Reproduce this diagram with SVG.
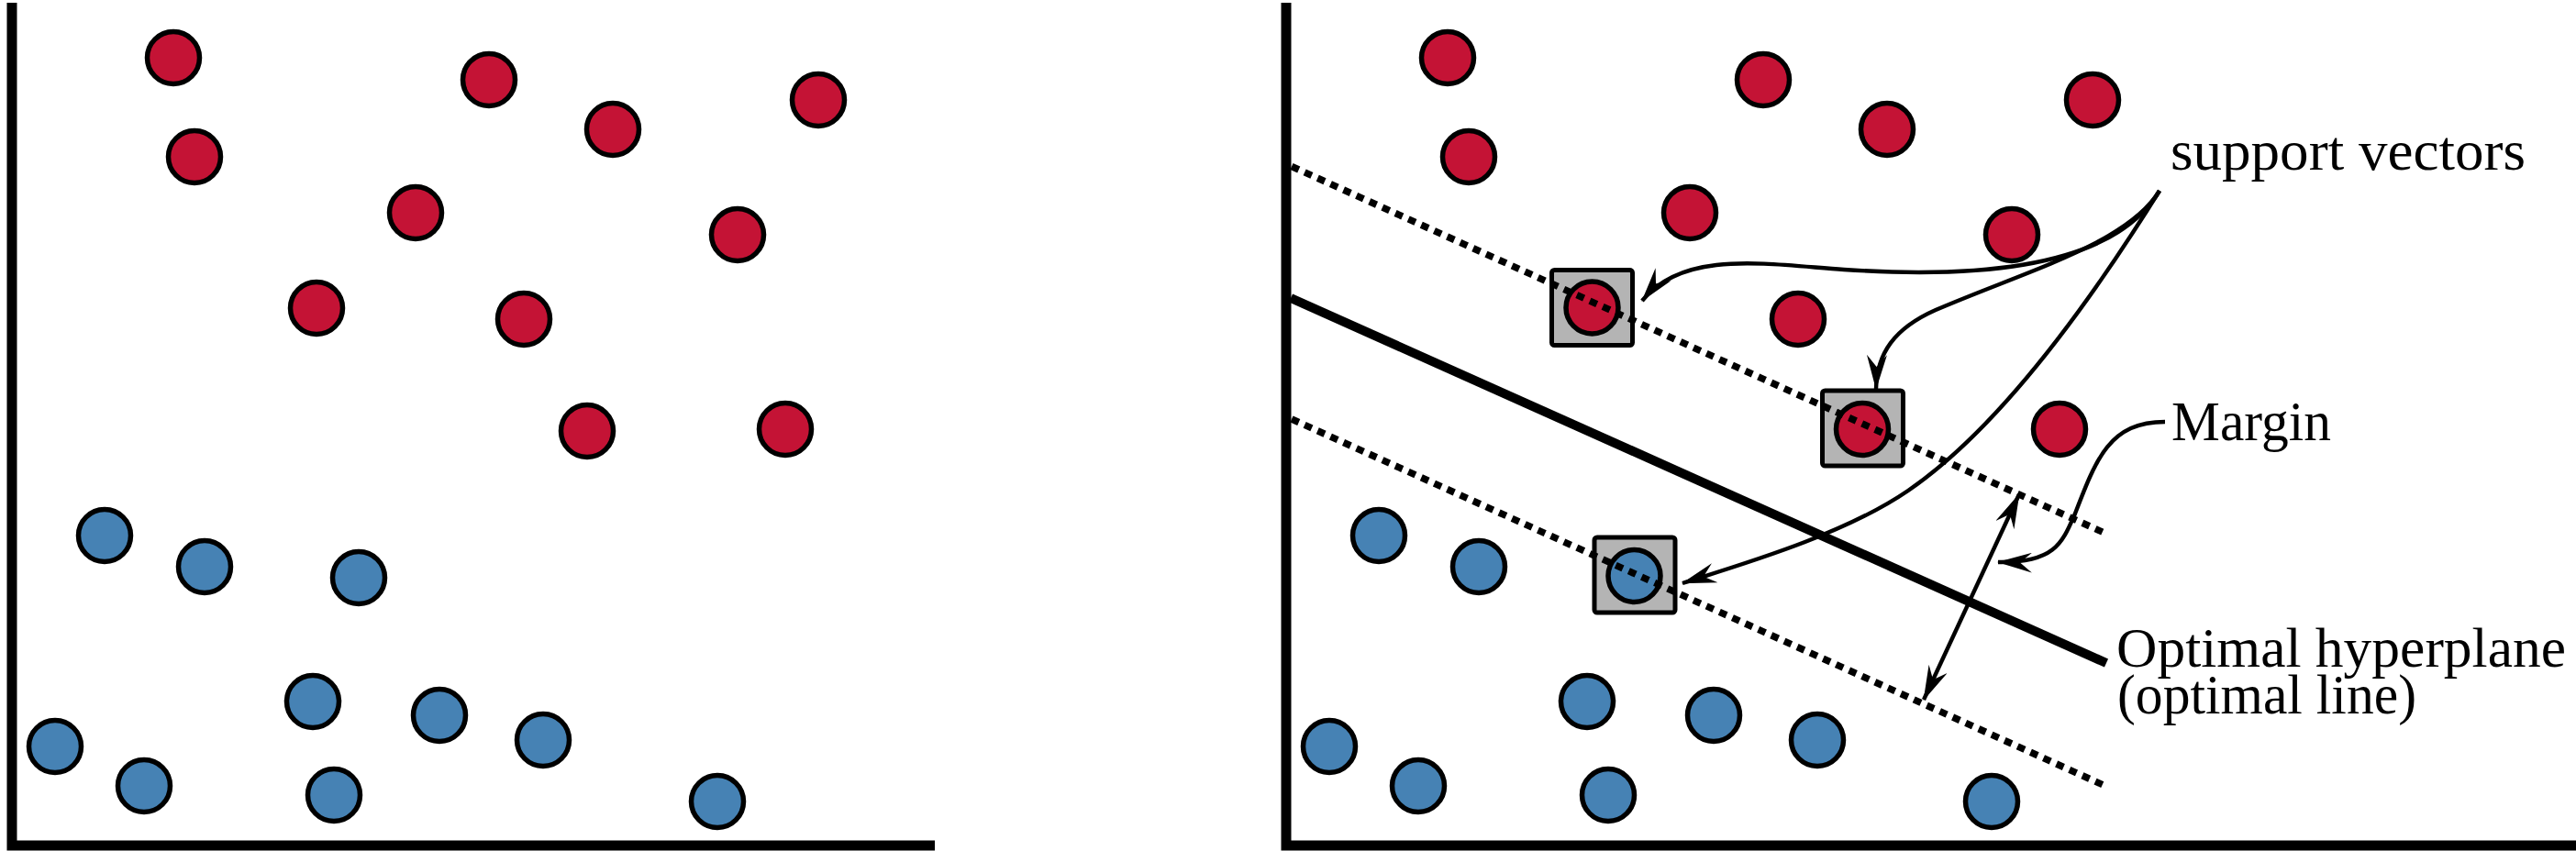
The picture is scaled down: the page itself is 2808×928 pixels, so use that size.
<svg xmlns="http://www.w3.org/2000/svg" width="2808" height="928" viewBox="0 0 2808 928">
<style>
.ax{fill:none;stroke:#000;stroke-width:11;stroke-linejoin:miter}
.r{fill:#C41335;stroke:#000;stroke-width:5.5}
.b{fill:#4682B4;stroke:#000;stroke-width:5.5}
.box{fill:#B4B4B4;stroke:#000;stroke-width:5;}
.dot{fill:none;stroke:#000;stroke-width:7.5;stroke-dasharray:8.5 7}
.hp{fill:none;stroke:#000;stroke-width:10}
.arr{fill:none;stroke:#000;stroke-width:4.4;marker-end:url(#ah)}
.lbl{font-family:"Liberation Serif","Times New Roman",serif;font-size:61px;fill:#000}
</style>
<defs>
<marker id="ah" viewBox="0 0 38 22" refX="37" refY="11" markerWidth="38" markerHeight="22" markerUnits="userSpaceOnUse" orient="auto-start-reverse">
<path d="M38,11 L0,0 L13,11 L0,22 Z" fill="#000"/>
</marker>
</defs>

<!-- Left panel -->
<g id="left-axes"><path class="ax" d="M13,3 L13,922 L1019,922"/></g>
<g id="left-points">
<g id="L-r1"><circle class="r" cx="189" cy="63" r="28.5"/></g>
<g id="L-r2"><circle class="r" cx="533" cy="87" r="28.5"/></g>
<g id="L-r3"><circle class="r" cx="668" cy="141" r="28.5"/></g>
<g id="L-r4"><circle class="r" cx="892" cy="109" r="28.5"/></g>
<g id="L-r5"><circle class="r" cx="212" cy="171" r="28.5"/></g>
<g id="L-r6"><circle class="r" cx="453" cy="232" r="28.5"/></g>
<g id="L-r7"><circle class="r" cx="804" cy="256" r="28.5"/></g>
<g id="L-r8"><circle class="r" cx="345" cy="336" r="28.5"/></g>
<g id="L-r9"><circle class="r" cx="571" cy="348" r="28.5"/></g>
<g id="L-r10"><circle class="r" cx="640" cy="470" r="28.5"/></g>
<g id="L-r11"><circle class="r" cx="856" cy="468" r="28.5"/></g>
<g id="L-b1"><circle class="b" cx="114" cy="584" r="28.5"/></g>
<g id="L-b2"><circle class="b" cx="223" cy="618" r="28.5"/></g>
<g id="L-b3"><circle class="b" cx="391" cy="630" r="28.5"/></g>
<g id="L-b4"><circle class="b" cx="60" cy="814" r="28.5"/></g>
<g id="L-b5"><circle class="b" cx="157" cy="857" r="28.5"/></g>
<g id="L-b6"><circle class="b" cx="341" cy="765" r="28.5"/></g>
<g id="L-b7"><circle class="b" cx="479" cy="780" r="28.5"/></g>
<g id="L-b8"><circle class="b" cx="592" cy="807" r="28.5"/></g>
<g id="L-b9"><circle class="b" cx="364" cy="867" r="28.5"/></g>
<g id="L-b10"><circle class="b" cx="782" cy="874" r="28.5"/></g>
</g>

<!-- Right panel -->
<g id="right-axes"><path class="ax" d="M1402,3 L1402,922 L2808,922"/></g>
<g id="right-points">
<g id="R-r1"><circle class="r" cx="1578" cy="63" r="28.5"/></g>
<g id="R-r2"><circle class="r" cx="1922" cy="87" r="28.5"/></g>
<g id="R-r3"><circle class="r" cx="2057" cy="141" r="28.5"/></g>
<g id="R-r4"><circle class="r" cx="2281" cy="109" r="28.5"/></g>
<g id="R-r5"><circle class="r" cx="1601" cy="171" r="28.5"/></g>
<g id="R-r6"><circle class="r" cx="1842" cy="232" r="28.5"/></g>
<g id="R-r7"><circle class="r" cx="2193" cy="256" r="28.5"/></g>
<g id="SV1"><rect class="box" x="1691.5" y="294.5" width="88" height="82" rx="3"/><circle class="r" cx="1735.5" cy="335.5" r="28.5"/></g>
<g id="R-r9"><circle class="r" cx="1960" cy="348" r="28.5"/></g>
<g id="SV2"><rect class="box" x="1986.5" y="426" width="88" height="82" rx="3"/><circle class="r" cx="2030" cy="468" r="28.5"/></g>
<g id="R-r11"><circle class="r" cx="2245" cy="468" r="28.5"/></g>
<g id="R-b1"><circle class="b" cx="1503" cy="584" r="28.5"/></g>
<g id="R-b2"><circle class="b" cx="1612" cy="618" r="28.5"/></g>
<g id="SV3"><rect class="box" x="1738" y="586" width="88" height="82" rx="3"/><circle class="b" cx="1781.5" cy="628" r="28.5"/></g>
<g id="R-b4"><circle class="b" cx="1449" cy="814" r="28.5"/></g>
<g id="R-b5"><circle class="b" cx="1546" cy="857" r="28.5"/></g>
<g id="R-b6"><circle class="b" cx="1730" cy="765" r="28.5"/></g>
<g id="R-b7"><circle class="b" cx="1868" cy="780" r="28.5"/></g>
<g id="R-b8"><circle class="b" cx="1981" cy="807" r="28.5"/></g>
<g id="R-b9"><circle class="b" cx="1753" cy="867" r="28.5"/></g>
<g id="R-b10"><circle class="b" cx="2171" cy="874" r="28.5"/></g>
</g>

<g id="lines">
<line class="dot" x1="1408" y1="181.5" x2="2296" y2="582"/>
<line class="hp" x1="1407" y1="325" x2="2296" y2="723"/>
<line class="dot" x1="1408" y1="457" x2="2296" y2="857.5"/>
</g>

<g id="connectors">
<path class="arr" d="M2354,208 C2300,300 2130,302 2010,294 C1925,288 1835,272 1790,328"/>
<path class="arr" d="M2354,208 C2320,265 2210,295 2110,338 C2065,358 2046,385 2045,424"/>
<path class="arr" d="M2354,208 C2250,375 2160,480 2080,535 C2010,583 1900,615 1834,636"/>
<path class="arr" d="M2360,460 C2300,460 2285,500 2262,560 C2248,592 2240,614 2178,613"/>
<path class="arr" d="M2201,539 L2097,763" style="marker-start:url(#ah)"/>
</g>

<g id="labels">
<text class="lbl" x="2366" y="185" textLength="387" lengthAdjust="spacingAndGlyphs">support vectors</text>
<text class="lbl" x="2367" y="480" textLength="174" lengthAdjust="spacingAndGlyphs">Margin</text>
<text class="lbl"><tspan x="2307" y="727" textLength="490" lengthAdjust="spacingAndGlyphs">Optimal hyperplane</tspan><tspan x="2308" y="778" textLength="326" lengthAdjust="spacingAndGlyphs">(optimal line)</tspan></text>
</g>
</svg>
